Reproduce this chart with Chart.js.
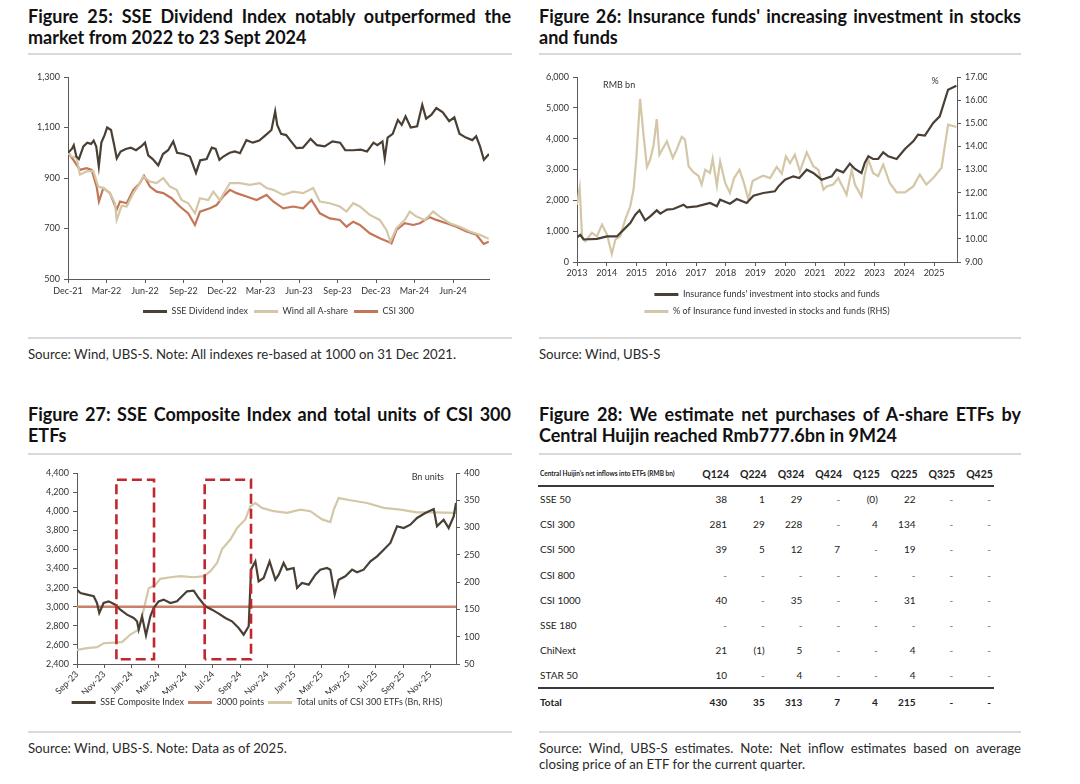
<!DOCTYPE html>
<html>
<head>
<meta charset="utf-8">
<script src="https://cdn.jsdelivr.net/npm/chart.js@4.4.1/dist/chart.umd.min.js"></script>
<style>
  body { margin: 0; background: #fff; }
  #page { position: relative; width: 1080px; height: 784px; overflow: hidden; font-family: Lato, "Liberation Sans", Arial, sans-serif; color: #222; }
  .title { position: absolute; width: 483px; font-family: Lato, "Liberation Sans", sans-serif; font-weight: bold; font-size: 18px; line-height: 21px; color: #111; }
  .l1 { text-align: justify; text-align-last: justify; }
  .rule { position: absolute; height: 2px; background: #d9d9d9; }
  .src { position: absolute; font-size: 13.2px; line-height: 15.5px; color: #2a2a2a; white-space: nowrap; }
  .src.just { width: 482px; }
  canvas { position: absolute; }
  .cell { position: absolute; white-space: nowrap; font-family: Lato, "Liberation Sans", sans-serif; font-size: 10px; line-height: 12px; color: #222; }
  .cell.b { font-weight: bold; }
  .tline { position: absolute; height: 2px; background: #3a3a3a; }
</style>
</head>
<body>
<div id="page">
  <div class="title" style="left:28px; top:6px;"><div class="l1">Figure 25: SSE Dividend Index notably outperformed the</div><div>market from 2022 to 23 Sept 2024</div></div>
  <div class="title" style="left:539px; top:6px; width:482px;"><div class="l1">Figure 26: Insurance funds' increasing investment in stocks</div><div>and funds</div></div>
  <div class="rule" style="left:28px; top:53px; width:484px;"></div>
  <div class="rule" style="left:539px; top:53px; width:482px;"></div>

  <canvas id="chart25" width="484" height="268" style="left:28px; top:60px;"></canvas>
  <canvas id="chart26" width="482" height="268" style="left:539px; top:60px;"></canvas>

  <div class="rule" style="left:28px; top:337px; width:484px;"></div>
  <div class="rule" style="left:539px; top:337px; width:482px;"></div>
  <div class="src" style="left:28px; top:347px;">Source: Wind, UBS-S. Note: All indexes re-based at 1000 on 31 Dec 2021.</div>
  <div class="src" style="left:539px; top:347px;">Source: Wind, UBS-S</div>

  <div class="title" style="left:28px; top:404px;"><div class="l1">Figure 27: SSE Composite Index and total units of CSI 300</div><div>ETFs</div></div>
  <div class="title" style="left:539px; top:404px; width:482px;"><div class="l1">Figure 28: We estimate net purchases of A-share ETFs by</div><div>Central Huijin reached Rmb777.6bn in 9M24</div></div>
  <div class="rule" style="left:28px; top:453px; width:484px;"></div>
  <div class="rule" style="left:539px; top:453px; width:482px;"></div>

  <canvas id="chart27" width="484" height="258" style="left:28px; top:462px;"></canvas>
  <div id="table28"></div>

  <div class="rule" style="left:28px; top:731px; width:484px;"></div>
  <div class="rule" style="left:539px; top:731px; width:482px;"></div>
  <div class="src" style="left:28px; top:741px;">Source: Wind, UBS-S. Note: Data as of 2025.</div>
  <div class="src just" style="left:539px; top:741px;"><div class="l1">Source: Wind, UBS-S estimates. Note: Net inflow estimates based on average</div><div>closing price of an ETF for the current quarter.</div></div>
</div>

<script>
// ---------- Figure 25: months after 31 Dec 2021, index re-based at 1000 ----------
const fig25Ticks = ['Dec-21', 'Mar-22', 'Jun-22', 'Sep-22', 'Dec-22', 'Mar-23', 'Jun-23', 'Sep-23', 'Dec-23', 'Mar-24', 'Jun-24'];

const dividendMonths = [0, 0.3, 0.45, 0.65, 0.85, 1.2, 1.5, 1.8, 2.0, 2.2, 2.4, 2.6, 2.85, 3.05, 3.35, 3.6, 3.8, 4.1, 4.5, 4.9, 5.3, 5.7, 6.0, 6.25, 6.6, 7.03, 7.4, 7.8, 8.2, 8.5, 9.0, 9.5, 9.97, 10.3, 10.8, 11.2, 11.5, 11.8, 12.1, 12.6, 13.0, 13.4, 13.9, 14.4, 14.9, 15.4, 15.85, 16.14, 16.3, 16.6, 17.0, 17.3, 17.8, 18.3, 18.9, 19.4, 20.0, 20.6, 21.2, 21.6, 22.2, 22.8, 23.3, 23.8, 24.1, 24.5, 24.68, 24.9, 25.3, 25.7, 26.0, 26.3, 26.7, 27.2, 27.6, 27.9, 28.3, 28.7, 29.2, 29.7, 30.1, 30.5, 31.0, 31.5, 31.8, 32.1, 32.4, 32.8];
const dividendIndex = [1000, 1015, 1030, 985, 975, 1025, 1040, 1035, 1048, 1025, 946, 1040, 1070, 1100, 1090, 1030, 978, 1005, 1015, 1020, 1010, 1025, 1040, 990, 975, 950, 995, 1010, 1045, 1000, 995, 985, 920, 970, 975, 1020, 1015, 972, 985, 1000, 1005, 998, 1050, 1040, 1048, 1070, 1090, 1164, 1110, 1075, 1070, 1050, 1018, 1020, 1055, 1030, 1025, 1045, 1040, 1010, 1010, 1012, 1005, 1040, 1030, 1045, 978, 1060, 1075, 1130, 1110, 1144, 1100, 1105, 1190, 1135, 1150, 1177, 1160, 1125, 1140, 1075, 1060, 1050, 1065, 1025, 972, 995];

const windMonths = [0, 0.29, 0.67, 0.93, 1.45, 1.97, 2.36, 2.75, 3.27, 3.66, 3.79, 4.18, 4.57, 5.09, 5.48, 5.87, 6.38, 6.9, 7.42, 7.94, 8.46, 8.85, 9.37, 9.89, 10.28, 10.93, 11.32, 11.83, 12.61, 13.39, 14.17, 14.95, 15.47, 15.99, 16.77, 17.54, 18.32, 19.1, 19.62, 20.4, 21.18, 21.7, 22.22, 22.74, 23.51, 24.29, 24.81, 25.12, 25.59, 26.24, 26.63, 27.15, 27.8, 28.45, 28.96, 29.74, 30.52, 31.3, 32.08, 32.78];
const windIndex = [1000, 985, 980, 913, 926, 928, 866, 860, 840, 800, 734, 790, 787, 840, 870, 906, 886, 880, 900, 866, 853, 813, 800, 760, 820, 813, 846, 813, 880, 880, 873, 880, 860, 853, 833, 846, 840, 860, 807, 800, 787, 767, 800, 787, 754, 734, 694, 648, 701, 734, 767, 747, 734, 767, 747, 721, 707, 688, 675, 659];

const csiMonths = [0, 0.42, 0.93, 1.45, 1.84, 2.23, 2.41, 2.75, 3.27, 3.79, 4.05, 4.57, 5.09, 5.61, 5.92, 6.38, 6.9, 7.42, 8.07, 8.72, 9.37, 9.89, 10.28, 11.06, 11.58, 12.09, 12.61, 13.13, 13.91, 14.69, 15.47, 15.99, 16.77, 17.54, 18.32, 18.97, 19.62, 20.4, 21.18, 21.7, 22.22, 22.74, 23.51, 24.29, 24.94, 25.2, 25.59, 26.24, 26.89, 27.41, 28.19, 28.7, 29.48, 30.26, 31.05, 31.82, 32.39, 32.78];
const csiIndex = [1000, 972, 932, 939, 932, 866, 807, 860, 840, 774, 807, 800, 853, 880, 909, 866, 846, 840, 820, 787, 760, 714, 767, 780, 793, 827, 853, 840, 827, 813, 833, 807, 780, 787, 780, 813, 760, 740, 734, 707, 727, 714, 681, 661, 648, 641, 694, 721, 714, 721, 745, 734, 721, 707, 688, 675, 639, 648];

// ---------- Figure 26: year fraction ----------
const insuranceYears = [2013.00, 2013.11, 2013.22, 2013.67, 2014.01, 2014.34, 2014.57, 2014.79, 2014.96, 2015.10, 2015.29, 2015.46, 2015.68, 2015.80, 2016.02, 2016.24, 2016.58, 2016.69, 2017.03, 2017.47, 2017.70, 2017.81, 2018.14, 2018.37, 2018.70, 2018.93, 2019.26, 2019.65, 2019.77, 2019.99, 2020.27, 2020.47, 2020.72, 2020.94, 2021.22, 2021.56, 2021.72, 2021.95, 2022.17, 2022.34, 2022.56, 2022.67, 2022.79, 2022.95, 2023.12, 2023.29, 2023.46, 2023.74, 2024.02, 2024.30, 2024.46, 2024.69, 2024.97, 2025.19, 2025.47, 2025.75];
const insuranceRmbBn = [800, 880, 730, 750, 830, 830, 1050, 1265, 1535, 1676, 1351, 1481, 1676, 1568, 1697, 1719, 1859, 1773, 1805, 1914, 1805, 2022, 1892, 2043, 1914, 2151, 2238, 2292, 2454, 2670, 2778, 2724, 2995, 2886, 2670, 2778, 2995, 2908, 3189, 3016, 2886, 3211, 3427, 3341, 3341, 3557, 3427, 3341, 3665, 3914, 4130, 4097, 4508, 4724, 5589, 5719];

const shareYears = [2013.00, 2013.09, 2013.17, 2013.28, 2013.50, 2013.67, 2013.84, 2014.01, 2014.17, 2014.29, 2014.45, 2014.62, 2014.79, 2014.90, 2014.99, 2015.12, 2015.24, 2015.35, 2015.46, 2015.57, 2015.68, 2015.77, 2016.02, 2016.22, 2016.35, 2016.52, 2016.63, 2016.75, 2016.91, 2017.08, 2017.19, 2017.31, 2017.47, 2017.56, 2017.70, 2017.81, 2017.98, 2018.14, 2018.28, 2018.46, 2018.61, 2018.76, 2018.90, 2019.09, 2019.26, 2019.49, 2019.71, 2019.88, 2020.02, 2020.16, 2020.32, 2020.49, 2020.72, 2020.94, 2021.11, 2021.28, 2021.39, 2021.61, 2021.78, 2022.06, 2022.23, 2022.34, 2022.56, 2022.67, 2022.79, 2022.95, 2023.12, 2023.29, 2023.51, 2023.74, 2024.02, 2024.30, 2024.52, 2024.74, 2024.97, 2025.25, 2025.47, 2025.75];
const sharePct = [11.48, 12.20, 10.11, 9.90, 10.26, 10.11, 10.62, 10.18, 9.35, 9.97, 10.11, 10.83, 11.41, 12.13, 13.43, 16.05, 14.44, 13.11, 13.43, 14.03, 15.18, 13.64, 14.22, 13.50, 13.86, 14.41, 14.29, 13.14, 12.88, 12.73, 12.35, 12.99, 12.85, 13.46, 12.30, 13.35, 12.42, 11.99, 12.63, 12.99, 12.42, 11.70, 12.50, 12.63, 12.73, 12.63, 13.11, 12.82, 13.57, 13.28, 13.64, 12.92, 13.74, 13.14, 12.99, 12.13, 12.27, 12.35, 12.63, 11.91, 12.99, 12.35, 11.84, 12.78, 13.43, 12.85, 12.71, 13.21, 12.42, 12.01, 12.01, 12.27, 12.78, 12.35, 12.63, 13.07, 14.94, 14.84];

// ---------- Figure 27: months after 1 Sep 2023 ----------
const fig27Ticks = ['Sep-23', 'Nov-23', 'Jan-24', 'Mar-24', 'May-24', 'Jul-24', 'Sep-24', 'Nov-24', 'Jan-25', 'Mar-25', 'May-25', 'Jul-25', 'Sep-25', 'Nov-25'];

const sseMonths = [0, 0.25, 0.74, 1.23, 1.47, 1.64, 1.96, 2.33, 2.82, 3.19, 3.68, 4.17, 4.42, 4.54, 4.79, 5.08, 5.40, 5.64, 6.01, 6.38, 6.87, 7.36, 7.73, 8.10, 8.59, 8.96, 9.45, 9.94, 10.43, 10.92, 11.41, 11.90, 12.27, 12.64, 12.81, 13.13, 13.37, 13.74, 14.18, 14.60, 14.85, 15.21, 15.46, 15.95, 16.20, 16.56, 17.06, 17.55, 17.91, 18.40, 18.65, 18.97, 19.26, 19.75, 20.25, 20.61, 21.10, 21.60, 22.09, 22.58, 23.07, 23.56, 24.05, 24.54, 25.03, 25.64, 26.26, 26.50, 26.99, 27.36, 27.73, 27.90];
const sseComposite = [3178, 3143, 3126, 3109, 3039, 2934, 3039, 3056, 3021, 2969, 2917, 2882, 2847, 2760, 2899, 2700, 2899, 2986, 3056, 3074, 3039, 3056, 3109, 3161, 3168, 3091, 3004, 2969, 2927, 2882, 2847, 2777, 2707, 2795, 3388, 3475, 3266, 3301, 3475, 3283, 3336, 3458, 3388, 3405, 3196, 3248, 3231, 3336, 3388, 3405, 3388, 3126, 3283, 3318, 3388, 3360, 3388, 3475, 3527, 3597, 3667, 3842, 3824, 3859, 3929, 3981, 4023, 3842, 3911, 3824, 3946, 4086];

const etfMonths = [0, 0.74, 1.47, 1.96, 3.31, 3.93, 4.54, 4.91, 5.28, 5.77, 6.13, 6.87, 7.61, 8.59, 9.37, 9.82, 10.31, 10.67, 11.29, 11.78, 12.39, 12.76, 13.13, 13.62, 14.48, 15.46, 16.44, 17.18, 18.04, 18.65, 18.90, 19.26, 20.12, 21.35, 22.58, 23.80, 25.03, 26.26, 27.90];
const etfUnitsBn = [76, 79, 81, 88, 90, 104, 113, 150, 189, 195, 206, 209, 211, 209, 211, 220, 235, 260, 278, 299, 315, 339, 345, 336, 330, 327, 333, 330, 315, 310, 333, 354, 350, 345, 336, 333, 328, 328, 327];

const levelPoints = 3000;
// highlighted windows: [start month, end month], drawn across the index range below
const highlightWindows = [[2.9, 5.67], [9.4, 12.81]];
const highlightRange = [2450, 4330];

// ---------- Figure 28 table ----------
const quarters = ['Q124', 'Q224', 'Q324', 'Q424', 'Q125', 'Q225', 'Q325', 'Q425'];
const etfNames = ['SSE 50', 'CSI 300', 'CSI 500', 'CSI 800', 'CSI 1000', 'SSE 180', 'ChiNext', 'STAR 50'];
const inflowsSSE50 = ['38', '1', '29', '-', '(0)', '22', '-', '-'];
const inflowsCSI300 = ['281', '29', '228', '-', '4', '134', '-', '-'];
const inflowsCSI500 = ['39', '5', '12', '7', '-', '19', '-', '-'];
const inflowsCSI800 = ['-', '-', '-', '-', '-', '-', '-', '-'];
const inflowsCSI1000 = ['40', '-', '35', '-', '-', '31', '-', '-'];
const inflowsSSE180 = ['-', '-', '-', '-', '-', '-', '-', '-'];
const inflowsChiNext = ['21', '(1)', '5', '-', '-', '4', '-', '-'];
const inflowsSTAR50 = ['10', '-', '4', '-', '-', '4', '-', '-'];
const inflowsTotal = ['430', '35', '313', '7', '4', '215', '-', '-'];

// ---------- styles ----------
const chartFont = 'Lato, "Liberation Sans", Arial, sans-serif';
const textColor = '#333';
const axisColor = '#5a5a5a';
const darkBrown = '#4a3f35';
const beige = '#d3c7a7';
const terracotta = '#c47658';
const salmonLine = '#c9806a';
const boxRed = '#c0282e';

Chart.defaults.font.family = chartFont;
Chart.defaults.font.size = 9;
Chart.defaults.color = textColor;

function toPoints(xs, ys) {
    return xs.map(function (x, i) { return { x: x, y: ys[i] }; });
}

function withComma(v) {
    return Number(v).toLocaleString('en-US');
}

function axisGrid() {
    return { display: true, drawOnChartArea: false, drawTicks: true, tickLength: 4, color: axisColor };
}

function axisBorder() {
    return { display: true, color: axisColor, width: 1 };
}

function fixedSize(prop, size) {
    return function (scale) { scale[prop] = size; };
}

function legendOptions(padding, fullSize) {
    return {
        display: true,
        position: 'bottom',
        fullSize: fullSize,
        labels: {
            usePointStyle: true,
            pointStyle: 'line',
            pointStyleWidth: 24,
            padding: padding,
            color: textColor,
            font: { size: 9 },
            filter: function (item) { return item.text.charAt(0) !== '_'; },
            generateLabels: function (chart) {
                return Chart.defaults.plugins.legend.labels.generateLabels(chart).map(function (l) {
                    l.lineWidth = 3;
                    return l;
                });
            }
        }
    };
}

// small text labels in the plot corners ("RMB bn", "%", "Bn units")
const cornerText = {
    id: 'cornerText',
    afterDraw: function (chart, args, opts) {
        const ctx = chart.ctx;
        const area = chart.chartArea;
        (opts.items || []).forEach(function (it) {
            ctx.save();
            ctx.font = '9px ' + chartFont;
            ctx.fillStyle = textColor;
            ctx.textAlign = it.align;
            ctx.textBaseline = 'middle';
            const x = it.from === 'left' ? area.left + it.dx : area.right - it.dx;
            ctx.fillText(it.text, x, area.top + it.dy);
            ctx.restore();
        });
    }
};
Chart.register(cornerText);

const lineBase = { pointRadius: 0, pointHoverRadius: 0, tension: 0, fill: false, borderWidth: 2.2 };

function drawAll() {
// ---------- Figure 25 ----------
new Chart(document.getElementById('chart25'), {
    type: 'line',
    data: {
        datasets: [
            Object.assign({ label: 'SSE Dividend index', data: toPoints(dividendMonths, dividendIndex), borderColor: darkBrown, backgroundColor: darkBrown }, lineBase),
            Object.assign({ label: 'Wind all A-share', data: toPoints(windMonths, windIndex), borderColor: beige, backgroundColor: beige }, lineBase),
            Object.assign({ label: 'CSI 300', data: toPoints(csiMonths, csiIndex), borderColor: terracotta, backgroundColor: terracotta }, lineBase)
        ]
    },
    options: {
        responsive: false,
        animation: false,
        layout: { padding: { left: 0, right: 23, top: 17, bottom: 2 } },
        plugins: { legend: legendOptions(6, false), tooltip: { enabled: false } },
        scales: {
            x: {
                type: 'linear', min: 0, max: 32.8,
                grid: axisGrid(), border: axisBorder(),
                afterFit: fixedSize('height', 22),
                ticks: {
                    stepSize: 3, includeBounds: false, autoSkip: false, maxRotation: 0, padding: 3,
                    callback: function (v) { return fig25Ticks[Math.round(v / 3)]; }
                }
            },
            y: {
                min: 500, max: 1300,
                grid: axisGrid(), border: axisBorder(),
                afterFit: fixedSize('width', 40),
                ticks: { stepSize: 200, padding: 4, callback: withComma }
            }
        }
    }
});

// ---------- Figure 26 ----------
new Chart(document.getElementById('chart26'), {
    type: 'line',
    data: {
        datasets: [
            Object.assign({ label: "Insurance funds' investment into stocks and funds", data: toPoints(insuranceYears, insuranceRmbBn), borderColor: darkBrown, backgroundColor: darkBrown, yAxisID: 'y' }, lineBase),
            Object.assign({ label: '% of Insurance fund invested in stocks and funds (RHS)', data: toPoints(shareYears, sharePct), borderColor: beige, backgroundColor: beige, yAxisID: 'y1' }, lineBase)
        ]
    },
    options: {
        responsive: false,
        animation: false,
        layout: { padding: { left: 0, right: 34, top: 17, bottom: 2 } },
        plugins: {
            legend: legendOptions(8, false),
            tooltip: { enabled: false },
            cornerText: { items: [
                { text: 'RMB bn', from: 'left', dx: 26, dy: 8, align: 'left' },
                { text: '%', from: 'right', dx: 22, dy: 4, align: 'center' }
            ] }
        },
        scales: {
            x: {
                type: 'linear', min: 2013, max: 2025.77,
                grid: axisGrid(), border: axisBorder(),
                afterFit: fixedSize('height', 20),
                ticks: { stepSize: 1, includeBounds: false, autoSkip: false, maxRotation: 0, padding: 2, callback: function (v) { return String(v); } }
            },
            y: {
                position: 'left', min: 0, max: 6000,
                grid: axisGrid(), border: axisBorder(),
                afterFit: fixedSize('width', 38),
                ticks: { stepSize: 1000, padding: 4, callback: withComma }
            },
            y1: {
                position: 'right', min: 9, max: 17,
                grid: axisGrid(), border: axisBorder(),
                afterFit: fixedSize('width', 30),
                ticks: { stepSize: 1, padding: 4, callback: function (v) { return Number(v).toFixed(2); } }
            }
        }
    }
});

// ---------- Figure 27 ----------
function windowOutline(win) {
    const lo = highlightRange[0], hi = highlightRange[1];
    return [{ x: win[0], y: lo }, { x: win[0], y: hi }, { x: win[1], y: hi }, { x: win[1], y: lo }, { x: win[0], y: lo }];
}

const boxSets = highlightWindows.map(function (win, i) {
    return { label: '_window' + i, data: windowOutline(win), borderColor: boxRed, borderWidth: 2.6, borderDash: [10, 5], pointRadius: 0, fill: false, tension: 0, yAxisID: 'y' };
});

new Chart(document.getElementById('chart27'), {
    type: 'line',
    data: {
        datasets: boxSets.concat([
            Object.assign({ label: 'SSE Composite Index', data: toPoints(sseMonths, sseComposite), borderColor: darkBrown, backgroundColor: darkBrown, yAxisID: 'y' }, lineBase),
            Object.assign({}, lineBase, { label: '3000 points', data: [{ x: 0, y: levelPoints }, { x: 27.9, y: levelPoints }], borderColor: salmonLine, backgroundColor: salmonLine, borderWidth: 2.4, yAxisID: 'y' }),
            Object.assign({ label: 'Total units of CSI 300 ETFs (Bn, RHS)', data: toPoints(etfMonths, etfUnitsBn), borderColor: beige, backgroundColor: beige, yAxisID: 'y1' }, lineBase)
        ])
    },
    options: {
        responsive: false,
        animation: false,
        layout: { padding: { left: 0, right: 26, top: 11, bottom: 3 } },
        plugins: {
            legend: legendOptions(4, true),
            tooltip: { enabled: false },
            cornerText: { items: [{ text: 'Bn units', from: 'right', dx: 12, dy: 4, align: 'right' }] }
        },
        scales: {
            x: {
                type: 'linear', min: 0, max: 27.9,
                grid: axisGrid(), border: axisBorder(),
                afterFit: fixedSize('height', 30),
                ticks: {
                    stepSize: 2, includeBounds: false, autoSkip: false, minRotation: 45, maxRotation: 45, padding: 1,
                    callback: function (v) { return fig27Ticks[Math.round(v / 2)]; }
                }
            },
            y: {
                position: 'left', min: 2400, max: 4400,
                grid: axisGrid(), border: axisBorder(),
                afterFit: fixedSize('width', 49),
                ticks: { stepSize: 200, padding: 4, callback: withComma }
            },
            y1: {
                position: 'right', min: 50, max: 400,
                grid: axisGrid(), border: axisBorder(),
                afterFit: fixedSize('width', 30),
                ticks: { stepSize: 50, padding: 4 }
            }
        }
    }
});
}

// ---------- Figure 28 table ----------
function buildTable() {
    const host = document.getElementById('table28');
    const left = 539;
    const colRight = quarters.map(function (q, i) { return 729 + i * 37.7; });
    const rows = [inflowsSSE50, inflowsCSI300, inflowsCSI500, inflowsCSI800, inflowsCSI1000, inflowsSSE180, inflowsChiNext, inflowsSTAR50];

    function addCell(text, x, yMid, opts) {
        const d = document.createElement('div');
        d.className = 'cell' + (opts.bold ? ' b' : '');
        d.textContent = text;
        if (opts.size) d.style.fontSize = opts.size + 'px';
        if (opts.color) d.style.color = opts.color;
        d.style.top = (yMid - 6) + 'px';
        if (opts.right) {
            d.style.right = (1080 - x) + 'px';
        } else {
            d.style.left = x + 'px';
        }
        host.appendChild(d);
    }
    function addLine(y) {
        const d = document.createElement('div');
        d.className = 'tline';
        d.style.left = (left - 1) + 'px';
        d.style.top = y + 'px';
        d.style.width = (colRight[colRight.length - 1] - left + 2) + 'px';
        host.appendChild(d);
    }

    addCell("Central Huijin's net inflows into ETFs (RMB bn)", left + 1, 474, { bold: true, size: 6.5 });
    quarters.forEach(function (q, i) { addCell(q, colRight[i], 474, { bold: true, right: true, size: 10.5 }); });
    addLine(485);
    rows.forEach(function (vals, r) {
        const y = 499 + r * 25.2;
        addCell(etfNames[r], left + 1, y, {});
        vals.forEach(function (v, i) {
            addCell(v, colRight[i] - 2, y, { right: true, color: v === '-' ? '#666' : null });
        });
    });
    addLine(687);
    addCell('Total', left + 1, 702, { bold: true });
    inflowsTotal.forEach(function (v, i) { addCell(v, colRight[i] - 2, 702, { bold: true, right: true }); });
}

buildTable();
// wait for Lato so canvas text measures with the right font
if (document.fonts && document.fonts.load) {
    Promise.all([document.fonts.load('9px Lato'), document.fonts.load('bold 9px Lato')]).then(drawAll, drawAll);
} else {
    drawAll();
}
</script>
</body>
</html>
